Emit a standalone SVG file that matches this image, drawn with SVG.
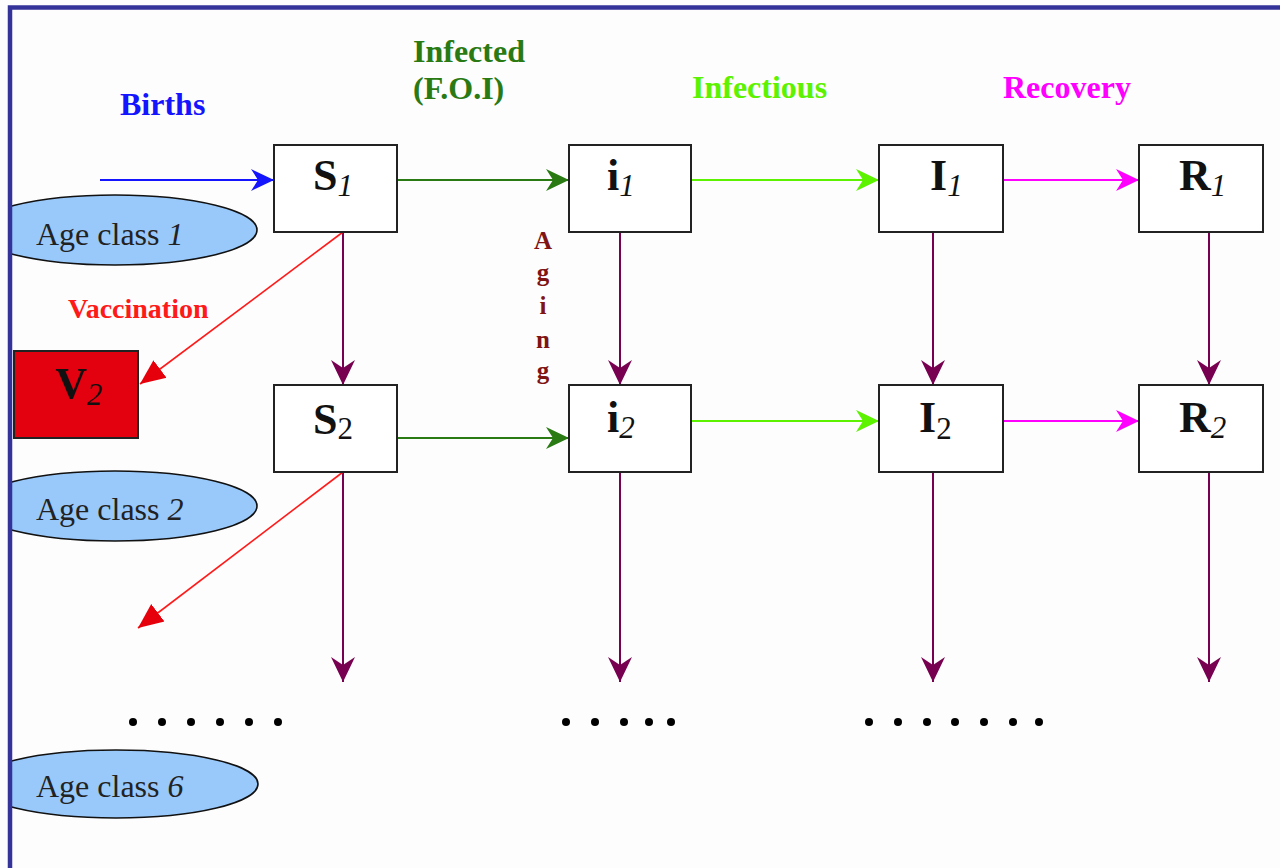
<svg xmlns="http://www.w3.org/2000/svg" width="1280" height="868" viewBox="0 0 1280 868">
<style>
.box{fill:#ffffff;stroke:#222222;stroke-width:2}
.age{fill:#99c9fb;stroke:#111111;stroke-width:1.6}
.big{font-family:"Liberation Serif","Times New Roman",serif;font-size:44px;font-weight:bold;fill:#111111}
.sub{font-size:31px;font-weight:normal;font-style:italic}
.subr{font-size:31px;font-weight:normal}
.agetxt{font-family:"Liberation Serif","Times New Roman",serif;font-size:32px;fill:#222222}
.lbl{font-family:"Liberation Serif","Times New Roman",serif;font-size:32px;font-weight:bold}
.vac{font-family:"Liberation Serif","Times New Roman",serif;font-size:28px;font-weight:bold;fill:#ff1a1a}
.aging{font-family:"Liberation Serif","Times New Roman",serif;font-size:25px;font-weight:bold;fill:#7f1414;text-anchor:middle}
.dot{fill:#000000}
</style>
<defs>
<marker id="mBlue" viewBox="0 -12 24 24" refX="23" refY="0" markerWidth="24" markerHeight="24" markerUnits="userSpaceOnUse" orient="auto"><path d="M0,-11 L23,0 L0,11 L7,0 Z" fill="#1414ff"/></marker>
<marker id="mDGreen" viewBox="0 -12 24 24" refX="23" refY="0" markerWidth="24" markerHeight="24" markerUnits="userSpaceOnUse" orient="auto"><path d="M0,-11 L23,0 L0,11 L7,0 Z" fill="#2a7a14"/></marker>
<marker id="mLGreen" viewBox="0 -12 24 24" refX="23" refY="0" markerWidth="24" markerHeight="24" markerUnits="userSpaceOnUse" orient="auto"><path d="M0,-11 L23,0 L0,11 L7,0 Z" fill="#5cf200"/></marker>
<marker id="mMag" viewBox="0 -12 24 24" refX="23" refY="0" markerWidth="24" markerHeight="24" markerUnits="userSpaceOnUse" orient="auto"><path d="M0,-11 L23,0 L0,11 L7,0 Z" fill="#ff00ff"/></marker>
<marker id="mPurp" viewBox="0 -13 26 26" refX="25" refY="0" markerWidth="26" markerHeight="26" markerUnits="userSpaceOnUse" orient="auto"><path d="M0,-12 L25,0 L0,12 L8,0 Z" fill="#780050"/></marker>
<marker id="mRed" viewBox="0 -12 26 24" refX="25" refY="0" markerWidth="26" markerHeight="24" markerUnits="userSpaceOnUse" orient="auto"><path d="M0,-11 L25,0 L0,11 Z" fill="#e6000c"/></marker>
</defs>
<rect x="0" y="0" width="1280" height="868" fill="#fdfdfd"/>

<g id="age1"><ellipse class="age" cx="115" cy="230" rx="142" ry="35"/><text class="agetxt" x="36" y="245">Age class <tspan font-style="italic">1</tspan></text></g>
<g id="age2"><ellipse class="age" cx="115" cy="506" rx="142" ry="35"/><text class="agetxt" x="36" y="520">Age class <tspan font-style="italic">2</tspan></text></g>
<g id="age6"><ellipse class="age" cx="116" cy="784" rx="142" ry="34"/><text class="agetxt" x="36" y="797">Age class <tspan font-style="italic">6</tspan></text></g>

<g id="connectors" fill="none">
<line x1="100" y1="180" x2="274" y2="180" stroke="#1414ff" stroke-width="2" marker-end="url(#mBlue)"/>
<line x1="397" y1="180" x2="569" y2="180" stroke="#2a7a14" stroke-width="2" marker-end="url(#mDGreen)"/>
<line x1="691" y1="180" x2="879" y2="180" stroke="#5cf200" stroke-width="2" marker-end="url(#mLGreen)"/>
<line x1="1003" y1="180" x2="1139" y2="180" stroke="#ff00ff" stroke-width="2" marker-end="url(#mMag)"/>
<line x1="397" y1="438" x2="569" y2="438" stroke="#2a7a14" stroke-width="2" marker-end="url(#mDGreen)"/>
<line x1="691" y1="421" x2="879" y2="421" stroke="#5cf200" stroke-width="2" marker-end="url(#mLGreen)"/>
<line x1="1003" y1="421" x2="1139" y2="421" stroke="#ff00ff" stroke-width="2" marker-end="url(#mMag)"/>
<g stroke="#780050" stroke-width="2">
<line x1="343" y1="232" x2="343" y2="385" marker-end="url(#mPurp)"/>
<line x1="620" y1="232" x2="620" y2="385" marker-end="url(#mPurp)"/>
<line x1="933" y1="232" x2="933" y2="385" marker-end="url(#mPurp)"/>
<line x1="1209" y1="232" x2="1209" y2="385" marker-end="url(#mPurp)"/>
<line x1="343" y1="472" x2="343" y2="682" marker-end="url(#mPurp)"/>
<line x1="620" y1="472" x2="620" y2="682" marker-end="url(#mPurp)"/>
<line x1="933" y1="472" x2="933" y2="682" marker-end="url(#mPurp)"/>
<line x1="1209" y1="472" x2="1209" y2="682" marker-end="url(#mPurp)"/>
</g>
<line x1="343" y1="232" x2="140" y2="384" stroke="#ff1a1a" stroke-width="1.6" marker-end="url(#mRed)"/>
<line x1="343" y1="472" x2="138" y2="628" stroke="#ff1a1a" stroke-width="1.6" marker-end="url(#mRed)"/>
</g>

<g id="S1"><rect class="box" x="274" y="145" width="123" height="87"/><text class="big" x="313" y="190">S<tspan class="sub" dy="6">1</tspan></text></g>
<g id="i1"><rect class="box" x="569" y="145" width="122" height="87"/><text class="big" x="607" y="190">i<tspan class="sub" dy="6">1</tspan></text></g>
<g id="I1"><rect class="box" x="879" y="145" width="124" height="87"/><text class="big" x="930" y="190">I<tspan class="sub" dy="6">1</tspan></text></g>
<g id="R1"><rect class="box" x="1139" y="145" width="124" height="87"/><text class="big" x="1179" y="190">R<tspan class="sub" dy="6">1</tspan></text></g>
<g id="S2"><rect class="box" x="274" y="385" width="123" height="87"/><text class="big" x="313" y="434">S<tspan class="subr" dy="5">2</tspan></text></g>
<g id="i2"><rect class="box" x="569" y="385" width="122" height="87"/><text class="big" x="607" y="432">i<tspan class="sub" dy="6">2</tspan></text></g>
<g id="I2"><rect class="box" x="879" y="385" width="124" height="87"/><text class="big" x="919" y="432">I<tspan class="subr" dy="7">2</tspan></text></g>
<g id="R2"><rect class="box" x="1139" y="385" width="124" height="87"/><text class="big" x="1179" y="432">R<tspan class="sub" dy="6">2</tspan></text></g>
<g id="V2"><rect x="14" y="351" width="124" height="87" fill="#e3000f" stroke="#222222" stroke-width="2"/><text class="big" x="55" y="398">V<tspan class="sub" dy="7">2</tspan></text></g>

<g id="labels">
<text class="lbl" x="120" y="115" fill="#1414ff">Births</text>
<text class="lbl" x="413" y="62" fill="#2a7a14">Infected</text>
<text class="lbl" x="413" y="99" fill="#2a7a14">(F.O.I)</text>
<text class="lbl" x="692" y="98" fill="#5cf200">Infectious</text>
<text class="lbl" x="1003" y="98" fill="#ff00ff">Recovery</text>
<text class="vac" x="68" y="318">Vaccination</text>
<g id="aging">
<text class="aging" x="543" y="249">A</text><text class="aging" x="543" y="281">g</text><text class="aging" x="543" y="314">i</text><text class="aging" x="543" y="348">n</text><text class="aging" x="543" y="379">g</text>
</g>
</g>

<g id="dots">
<circle class="dot" cx="133" cy="722" r="4"/><circle class="dot" cx="162" cy="722" r="4"/><circle class="dot" cx="191" cy="722" r="4"/><circle class="dot" cx="220" cy="722" r="4"/><circle class="dot" cx="249" cy="722" r="4"/><circle class="dot" cx="278" cy="722" r="4"/>
<circle class="dot" cx="566" cy="722" r="4"/><circle class="dot" cx="595" cy="722" r="4"/><circle class="dot" cx="624" cy="722" r="4"/><circle class="dot" cx="649" cy="722" r="4"/><circle class="dot" cx="671" cy="722" r="4"/>
<circle class="dot" cx="869" cy="722" r="4"/><circle class="dot" cx="898" cy="722" r="4"/><circle class="dot" cx="927" cy="722" r="4"/><circle class="dot" cx="955" cy="722" r="4"/><circle class="dot" cx="984" cy="722" r="4"/><circle class="dot" cx="1013" cy="722" r="4"/><circle class="dot" cx="1039" cy="722" r="4"/>
</g>

<rect x="0" y="0" width="8" height="868" fill="#fdfdfd"/>
<rect x="0" y="0" width="1280" height="5" fill="#fdfdfd"/>
<rect x="10" y="7.5" width="1290" height="880" fill="none" stroke="#333399" stroke-width="4.5"/>
</svg>
